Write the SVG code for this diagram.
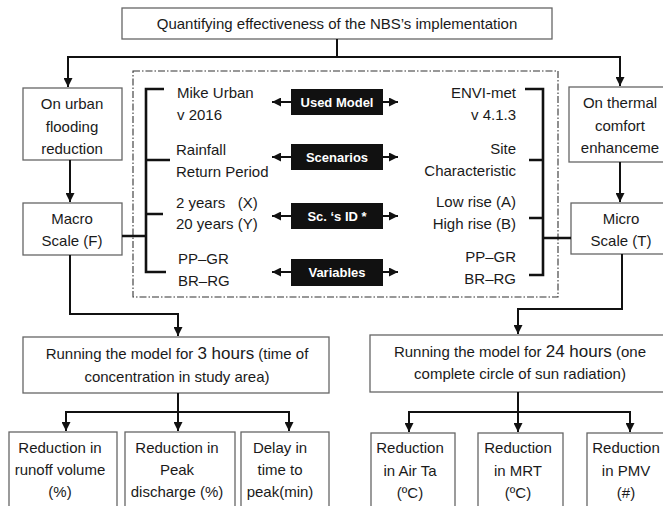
<svg xmlns="http://www.w3.org/2000/svg" width="663" height="506" viewBox="0 0 663 506">
  <style>
    .box { fill: #ffffff; stroke: #666666; stroke-width: 1.3; }
    .txt { font-family: "Liberation Sans", Arial, sans-serif; font-size: 15px; fill: #1a1a1a; white-space: pre; }
    .mid { text-anchor: middle; }
    .end { text-anchor: end; }
    .tag { fill: #111111; }
    .tagtxt { font-family: "Liberation Sans", Arial, sans-serif; font-size: 13px; font-weight: bold; fill: #ffffff; text-anchor: middle; }
    .conn { fill: none; stroke: #111111; stroke-width: 2; }
    .brk { fill: none; stroke: #111111; stroke-width: 2.6; }
    .frame { fill: none; stroke: #333333; stroke-width: 1.1; stroke-dasharray: 7 2 1.5 2; }
  </style>
  <defs>
    <marker id="arr" viewBox="0 0 10 10" refX="10" refY="5" markerWidth="9" markerHeight="9" markerUnits="userSpaceOnUse" orient="auto">
      <path d="M0,0 L10,5 L0,10 z" fill="#111111"/>
    </marker>
  </defs>

  <rect width="663" height="506" fill="#ffffff"/>

  <!-- dash-dot frame around model setup -->
  <rect class="frame" x="133" y="71" width="425" height="226"/>

  <g id="title">
    <rect class="box" x="122" y="8" width="430" height="31"/>
    <text class="txt mid" x="337" y="29">Quantifying effectiveness of the NBS’s implementation</text>
  </g>

  <g id="flooding">
    <rect class="box" x="23" y="88" width="99" height="72"/>
    <text class="txt mid" x="72" y="109">On urban</text>
    <text class="txt mid" x="72" y="132">flooding</text>
    <text class="txt mid" x="72" y="154">reduction</text>
  </g>

  <g id="thermal">
    <rect class="box" x="569" y="87" width="110" height="75"/>
    <text class="txt mid" x="620" y="108">On thermal</text>
    <text class="txt mid" x="620" y="131">comfort</text>
    <text class="txt mid" x="620" y="153">enhanceme</text>
  </g>

  <g id="macro">
    <rect class="box" x="23" y="203" width="99" height="52"/>
    <text class="txt mid" x="72" y="224">Macro</text>
    <text class="txt mid" x="72" y="246">Scale (F)</text>
  </g>

  <g id="micro">
    <rect class="box" x="571" y="203" width="105" height="51"/>
    <text class="txt mid" x="621" y="224">Micro</text>
    <text class="txt mid" x="621" y="246">Scale (T)</text>
  </g>

  <g id="setup-left">
    <text class="txt" x="177" y="98">Mike Urban</text>
    <text class="txt" x="177" y="120">v 2016</text>
    <text class="txt" x="176" y="155">Rainfall</text>
    <text class="txt" x="176" y="177">Return Period</text>
    <text class="txt" x="176" y="208">2 years   (X)</text>
    <text class="txt" x="176" y="229">20 years (Y)</text>
    <text class="txt" x="178" y="264">PP–GR</text>
    <text class="txt" x="178" y="286">BR–RG</text>
  </g>

  <g id="setup-right">
    <text class="txt end" x="516" y="98">ENVI-met</text>
    <text class="txt end" x="516" y="120">v 4.1.3</text>
    <text class="txt end" x="516" y="154">Site</text>
    <text class="txt end" x="516" y="176">Characteristic</text>
    <text class="txt end" x="516" y="207">Low rise (A)</text>
    <text class="txt end" x="516" y="229">High rise (B)</text>
    <text class="txt end" x="516" y="262">PP–GR</text>
    <text class="txt end" x="516" y="284">BR–RG</text>
  </g>

  <g id="tag-model">
    <rect class="tag" x="291" y="89" width="92" height="26"/>
    <text class="tagtxt" x="337" y="107">Used Model</text>
  </g>
  <g id="tag-scenarios">
    <rect class="tag" x="291" y="144" width="92" height="26"/>
    <text class="tagtxt" x="337" y="162">Scenarios</text>
  </g>
  <g id="tag-id">
    <rect class="tag" x="291" y="203" width="92" height="26"/>
    <text class="tagtxt" x="337" y="221">Sc. ‘s ID *</text>
  </g>
  <g id="tag-variables">
    <rect class="tag" x="291" y="259" width="92" height="27"/>
    <text class="tagtxt" x="337" y="277">Variables</text>
  </g>

  <g id="run-3h">
    <rect class="box" x="23" y="337" width="306" height="56"/>
    <text class="txt mid" x="177" y="359">Running the model for <tspan font-size="17">3 hours</tspan> (time of</text>
    <text class="txt mid" x="177" y="382">concentration in study area)</text>
  </g>

  <g id="run-24h">
    <rect class="box" x="370" y="335" width="305" height="57"/>
    <text class="txt mid" x="520" y="357">Running the model for <tspan font-size="17">24 hours</tspan> (one</text>
    <text class="txt mid" x="520" y="379">complete circle of sun radiation)</text>
  </g>

  <g id="runoff">
    <rect class="box" x="9" y="432" width="108" height="90"/>
    <text class="txt mid" x="60" y="453">Reduction in</text>
    <text class="txt mid" x="60" y="475">runoff volume</text>
    <text class="txt mid" x="60" y="497">(%)</text>
  </g>
  <g id="peak">
    <rect class="box" x="125" y="432" width="110" height="90"/>
    <text class="txt mid" x="177" y="453">Reduction in</text>
    <text class="txt mid" x="177" y="475">Peak</text>
    <text class="txt mid" x="177" y="497">discharge (%)</text>
  </g>
  <g id="delay">
    <rect class="box" x="241" y="432" width="88" height="90"/>
    <text class="txt mid" x="280" y="453">Delay in</text>
    <text class="txt mid" x="280" y="475">time to</text>
    <text class="txt mid" x="280" y="497">peak(min)</text>
  </g>
  <g id="airta">
    <rect class="box" x="371" y="433" width="84" height="90"/>
    <text class="txt mid" x="410" y="453">Reduction</text>
    <text class="txt mid" x="410" y="476">in Air Ta</text>
    <text class="txt mid" x="410" y="498">(ºC)</text>
  </g>
  <g id="mrt">
    <rect class="box" x="478" y="433" width="85" height="90"/>
    <text class="txt mid" x="518" y="453">Reduction</text>
    <text class="txt mid" x="518" y="476">in MRT</text>
    <text class="txt mid" x="518" y="498">(ºC)</text>
  </g>
  <g id="pmv">
    <rect class="box" x="587" y="433" width="90" height="90"/>
    <text class="txt mid" x="626" y="453">Reduction</text>
    <text class="txt mid" x="626" y="476">in PMV</text>
    <text class="txt mid" x="626" y="498">(#)</text>
  </g>

  <g id="connectors">
    <!-- title to both branches -->
    <path class="conn" d="M337,39 V57 H68 V87" marker-end="url(#arr)"/>
    <path class="conn" d="M337,57 H620 V86" marker-end="url(#arr)"/>
    <path class="conn" d="M70,160 V202" marker-end="url(#arr)"/>
    <path class="conn" d="M620,162 V202" marker-end="url(#arr)"/>
    <!-- scale boxes to model runs -->
    <path class="conn" d="M70,255 V314 H178 V336" marker-end="url(#arr)"/>
    <path class="conn" d="M622,254 V309 H518 V334" marker-end="url(#arr)"/>
    <!-- model runs to outputs -->
    <path class="conn" d="M178,393 V412 H66 V431" marker-end="url(#arr)"/>
    <path class="conn" d="M178,412 V431" marker-end="url(#arr)"/>
    <path class="conn" d="M178,412 H289 V431" marker-end="url(#arr)"/>
    <path class="conn" d="M518,392 V412 H409 V432" marker-end="url(#arr)"/>
    <path class="conn" d="M518,412 V432" marker-end="url(#arr)"/>
    <path class="conn" d="M518,412 H630 V432" marker-end="url(#arr)"/>
    <!-- brackets -->
    <path class="brk" d="M164,89 H146 V272 H166 M146,160 H170 M146,214 H163 M122,236 H146"/>
    <path class="brk" d="M525,89 H543 V275 H529 M529,160 H543 M529,218 H543 M543,238 H571"/>
    <!-- tag arrows -->
    <path class="conn" d="M291,102 H272" marker-end="url(#arr)"/>
    <path class="conn" d="M383,102 H398" marker-end="url(#arr)"/>
    <path class="conn" d="M291,157 H272" marker-end="url(#arr)"/>
    <path class="conn" d="M383,157 H398" marker-end="url(#arr)"/>
    <path class="conn" d="M291,216 H272" marker-end="url(#arr)"/>
    <path class="conn" d="M383,216 H398" marker-end="url(#arr)"/>
    <path class="conn" d="M291,272 H272" marker-end="url(#arr)"/>
    <path class="conn" d="M383,272 H398" marker-end="url(#arr)"/>
  </g>
</svg>
